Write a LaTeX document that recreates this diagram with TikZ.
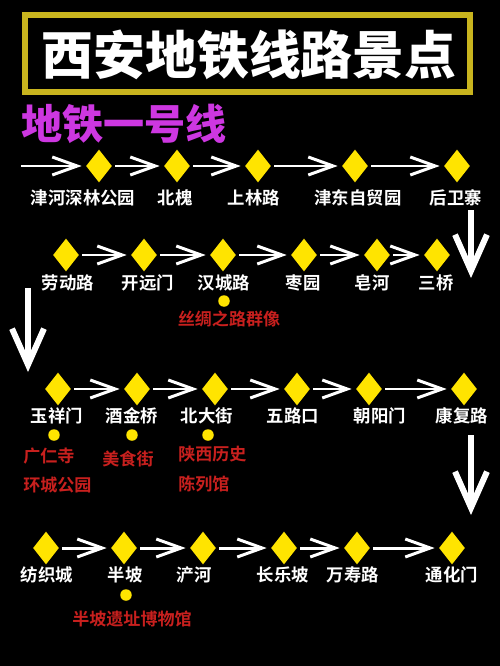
\documentclass[tikz,border=0pt]{standalone}
\usepackage{fontspec}
\usetikzlibrary{arrows.meta, shapes.geometric}
\newfontfamily\cjk{Noto Sans CJK SC}[BoldFont={Noto Sans CJK SC Bold}]
\newfontfamily\cjkheavy{Noto Sans CJK SC Black}
\definecolor{rim}{RGB}{200,180,30}
\definecolor{gem}{RGB}{255,228,0}
\definecolor{lineone}{RGB}{205,55,225}
\definecolor{sightred}{RGB}{200,32,30}

\begin{document}
\begin{tikzpicture}[x=0.02cm, y=-0.02cm,
  halt/.style={diamond, fill=gem, minimum width=0.52cm, minimum height=0.66cm,
               inner sep=0pt},
  stname/.style={text=white, inner sep=0pt,
                 font=\cjk\bfseries\fontsize{9.9}{11}\selectfont},
  sight/.style={text=sightred, inner sep=0pt,
                font=\cjk\bfseries\fontsize{9.7}{11}\selectfont},
  spot/.style={circle, fill=gem, minimum size=0.23cm, inner sep=0pt},
  flow/.style={draw=white, line width=1.7pt,
               -{Straight Barb[length=0.5cm, width=0.36cm]},
               shorten <=0.06cm, shorten >=0.08cm},
  drop/.style={draw=white, line width=3.4pt,
               -{Straight Barb[length=0.72cm, width=0.64cm]}},
]
% one station: name, x, y, label x, label y, text
\newcommand{\station}[6]{
  \node[halt] (#1) at (#2,#3) {};
  \node[stname] (#1t) at (#4,#5) {#6};
}

\fill[black] (0,0) rectangle (500,666);
\useasboundingbox (0,0) rectangle (500,666);

% heading
\draw[draw=rim, line width=3.4pt] (25,15) rectangle (470,92);
\node[text=white, inner sep=0pt, font=\cjkheavy\fontsize{29.5}{32}\selectfont]
  (title) at (249,55) {西安地铁线路景点};
\node[anchor=west, text=lineone, inner sep=0pt,
      font=\cjkheavy\fontsize{23.4}{26}\selectfont]
  (line) at (21,124) {地铁一号线};

% first row
\coordinate (start) at (18,166);
\station{jhsl}{99}{166}{83}{198}{津河深林公园}
\station{bh}{177}{166}{175}{198}{北槐}
\station{sll}{258}{166}{254}{198}{上林路}
\station{jdzm}{355}{166}{358}{198}{津东自贸园}
\station{hwz}{457}{166}{456}{198}{后卫寨}
\draw[flow] (start) -- (jhsl);
\draw[flow] (jhsl) -- (bh);
\draw[flow] (bh) -- (sll);
\draw[flow] (sll) -- (jdzm);
\draw[flow] (jdzm) -- (hwz);

% second row
\station{ldl}{66}{255}{68}{283}{劳动路}
\station{kym}{144}{255}{148}{283}{开远门}
\station{hcl}{223}{255}{224}{283}{汉城路}
\station{zy}{304}{255}{303}{283}{枣园}
\station{zh}{377}{255}{372}{283}{皂河}
\station{sq}{437}{255}{436}{283}{三桥}
\draw[flow] (ldl) -- (kym);
\draw[flow] (kym) -- (hcl);
\draw[flow] (hcl) -- (zy);
\draw[flow] (zy) -- (zh);
\draw[flow] (zh) -- (sq);
\node[spot] (hcldot) at (224,301) {};
\node[sight] (silk) at (229,319) {丝绸之路群像};

% third row
\station{yxm}{58}{389}{57}{416}{玉祥门}
\station{jjq}{137}{389}{132}{416}{酒金桥}
\station{bdj}{215}{389}{207}{416}{北大街}
\station{wlk}{297}{389}{293}{416}{五路口}
\station{cym}{369}{389}{380}{416}{朝阳门}
\station{kfl}{464}{389}{462}{416}{康复路}
\draw[flow] (yxm) -- (jjq);
\draw[flow] (jjq) -- (bdj);
\draw[flow] (bdj) -- (wlk);
\draw[flow] (wlk) -- (cym);
\draw[flow] (cym) -- (kfl);
\node[spot] (yxmdot) at (54,435) {};
\node[spot] (jjqdot) at (132,435) {};
\node[spot] (bdjdot) at (208,435) {};
\node[sight, anchor=west] (grs) at (23,456) {广仁寺};
\node[sight, anchor=west] (hcgy) at (23,485) {环城公园};
\node[sight] (msj) at (128,459) {美食街};
\node[sight, anchor=west] (sxls) at (178,454) {陕西历史};
\node[sight, anchor=west] (clg) at (178,484) {陈列馆};

% fourth row
\station{fzc}{46}{548}{47}{575}{纺织城}
\station{bp}{124}{548}{125}{575}{半坡}
\station{ch}{203}{548}{194}{575}{浐河}
\station{clp}{284}{548}{283}{575}{长乐坡}
\station{wsl}{357}{548}{353}{575}{万寿路}
\station{thm}{452}{548}{452}{575}{通化门}
\draw[flow] (fzc) -- (bp);
\draw[flow] (bp) -- (ch);
\draw[flow] (ch) -- (clp);
\draw[flow] (clp) -- (wsl);
\draw[flow] (wsl) -- (thm);
\node[spot] (bpdot) at (126,595) {};
\node[sight] (bpyz) at (132,619) {半坡遗址博物馆};

% turns between rows
\coordinate (turnaa) at (471,210);
\coordinate (turnab) at (471,278);
\coordinate (turnba) at (28,288);
\coordinate (turnbb) at (28,372);
\coordinate (turnca) at (471,435);
\coordinate (turncb) at (471,515);
\draw[drop] (turnaa) -- (turnab);
\draw[drop] (turnba) -- (turnbb);
\draw[drop] (turnca) -- (turncb);
\end{tikzpicture}
\end{document}
